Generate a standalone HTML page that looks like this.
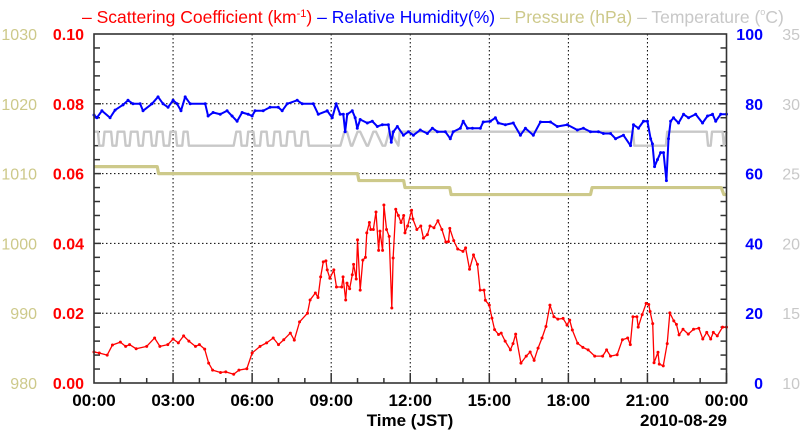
<!DOCTYPE html>
<html><head><meta charset="utf-8"><style>
html,body{margin:0;padding:0;background:#fff;width:800px;height:434px;overflow:hidden}
svg{display:block}
text{font-family:"Liberation Sans",Arial,sans-serif}
</style></head><body>
<svg id="chart" width="800" height="434" xmlns="http://www.w3.org/2000/svg"></svg>
<script>
// ---- data ----
const xTickLabels = ["00:00","03:00","06:00","09:00","12:00","15:00","18:00","21:00","00:00"];
const scatTicks = ["0.00","0.02","0.04","0.06","0.08","0.10"];
const presTicks = ["980","990","1000","1010","1020","1030"];
const rhTicks = ["0","20","40","60","80","100"];
const tempTicks = ["10","15","20","25","30","35"];

const scatTimes = [0,0.2,0.5,0.7,1.0,1.2,1.35,1.6,2.0,2.3,2.5,2.8,3.0,3.2,3.4,3.6,3.85,4.0,4.2,4.35,4.5,4.8,5.0,5.3,5.5,5.8,6.0,6.3,6.55,6.8,7.0,7.2,7.45,7.6,7.8,8.1,8.2,8.4,8.5,8.6,8.7,8.8,8.85,8.95,9.1,9.2,9.4,9.45,9.55,9.6,9.7,9.8,9.85,9.95,10.0,10.1,10.2,10.3,10.35,10.45,10.5,10.6,10.7,10.8,10.85,10.95,11.0,11.1,11.2,11.3,11.35,11.45,11.55,11.65,11.75,11.8,11.9,12.05,12.1,12.25,12.4,12.5,12.65,12.75,12.9,13.05,13.2,13.35,13.45,13.5,13.65,13.8,14.0,14.1,14.25,14.4,14.55,14.65,14.8,14.85,15.0,15.1,15.2,15.35,15.45,15.6,15.8,15.9,16.0,16.2,16.4,16.55,16.7,16.85,17.0,17.15,17.3,17.45,17.6,17.8,17.95,18.05,18.15,18.35,18.55,18.75,19.0,19.3,19.45,19.6,19.85,20.05,20.25,20.35,20.45,20.6,20.65,20.8,20.95,21.05,21.1,21.2,21.25,21.4,21.45,21.6,21.75,21.85,22.0,22.1,22.2,22.35,22.55,22.75,22.95,23.1,23.25,23.4,23.5,23.65,23.85,24];
const scatValues = [0.0089,0.0086,0.008,0.0109,0.0117,0.0105,0.011,0.0098,0.0105,0.0129,0.0105,0.011,0.0126,0.0115,0.0135,0.012,0.0105,0.011,0.0097,0.0057,0.0037,0.003,0.0032,0.0025,0.0037,0.0041,0.0086,0.0105,0.0115,0.0129,0.011,0.0124,0.0143,0.0123,0.0175,0.02,0.0238,0.0258,0.0245,0.0304,0.0347,0.035,0.0324,0.03,0.0324,0.0275,0.0275,0.0304,0.0238,0.0286,0.027,0.031,0.034,0.0298,0.041,0.0266,0.0352,0.036,0.043,0.046,0.044,0.044,0.049,0.038,0.0435,0.038,0.051,0.044,0.042,0.0215,0.0358,0.0498,0.048,0.046,0.048,0.043,0.045,0.0495,0.047,0.044,0.045,0.0415,0.0425,0.045,0.0445,0.0465,0.044,0.0404,0.0405,0.0443,0.0408,0.0384,0.0377,0.0387,0.0326,0.0367,0.034,0.0266,0.0266,0.0237,0.0223,0.0186,0.0153,0.0139,0.0143,0.012,0.0095,0.0113,0.014,0.0057,0.0077,0.0089,0.0065,0.01,0.0129,0.0162,0.0223,0.019,0.0183,0.0185,0.0166,0.018,0.0152,0.0114,0.0102,0.0095,0.0077,0.0077,0.0095,0.0077,0.0081,0.0124,0.0129,0.011,0.019,0.019,0.016,0.0196,0.0228,0.0225,0.0205,0.017,0.0058,0.0088,0.0054,0.0049,0.0113,0.0201,0.0178,0.0168,0.0138,0.0154,0.014,0.0154,0.0157,0.0126,0.0145,0.0126,0.0145,0.0135,0.016,0.016];

const rhTimes = [0,0.11,0.3,0.61,0.8,1.1,1.29,1.48,1.75,1.86,2.2,2.43,2.62,2.81,3.0,3.15,3.3,3.46,3.65,4.22,4.33,4.52,4.79,5.05,5.24,5.43,5.62,5.85,6.0,6.11,6.42,6.68,6.99,7.14,7.33,7.71,7.9,8.32,8.51,8.85,9.04,9.19,9.34,9.46,9.53,9.61,9.8,9.91,9.99,10.1,10.37,10.56,10.75,10.94,11.17,11.28,11.36,11.51,11.74,11.93,12.12,12.38,12.65,12.84,13.03,13.33,13.52,13.63,13.9,14.01,14.17,14.36,14.66,14.77,15.04,15.23,15.34,15.61,15.91,16.18,16.37,16.67,16.94,17.32,17.58,17.96,18.34,18.57,18.84,19.14,19.33,19.6,19.79,20.09,20.36,20.47,20.66,20.85,21.0,21.12,21.19,21.27,21.38,21.5,21.61,21.72,21.8,21.88,21.99,22.18,22.37,22.56,22.83,23.09,23.28,23.47,23.59,23.78,24];
const rhValues = [76.8,76,78,76,78.2,79.7,81,80,80,78,80,82,80,79,81,80,78,82,80,80,76.5,77.5,77,78,76.5,75,77.5,77,76.5,78,78,79,79,78,80,81,80,80,77,78,76,80,77,77,72,77,78,76,73,75.5,74.5,75,73.5,74,74,69,72,73.5,71,72,71,72.5,71.5,73,72,72,70,72,73,75,73,73,73,74.8,75,76,74.5,74,74.5,71,73,71,74.8,74.8,73.5,74,72.5,73,72,72,71.5,71.5,70,71,68,74,73,75,75,70,68.5,62,64,66,66,58,70,75,76,74.5,77,76,77,74.5,76.5,77,75,77,77];

const presTimes = [0,2.4,2.45,10.0,10.05,11.75,11.8,13.5,13.55,18.84,18.9,23.8,23.9,24];
const presValues = [1011,1011,1010,1010,1009,1009,1008,1008,1007,1007,1008,1008,1007,1007];

const tempTimes = [0,0.15,0.2,0.35,0.4,0.65,0.7,0.85,0.9,1.15,1.2,1.35,1.4,1.65,1.7,1.85,1.9,2.15,2.2,2.35,2.4,2.6,2.65,2.85,2.9,3.1,3.15,3.35,3.4,3.55,3.6,5.3,5.4,5.55,5.6,5.8,5.85,6.05,6.1,6.3,6.35,6.55,6.6,6.8,6.85,7.05,7.1,7.3,7.35,7.6,7.65,7.85,7.9,8.1,8.15,8.6,9.35,9.5,9.6,9.75,9.8,10.0,10.1,10.35,10.4,10.6,10.7,10.95,11.05,11.2,11.25,11.55,11.6,20.45,20.5,21.7,21.75,23.25,23.3,23.4,23.45,23.85,23.9,24];
const tempValues = [28,28,27,27,28,28,27,27,28,28,27,27,28,28,27,27,28,28,27,27,28,28,27,27,28,28,27,27,28,28,27,27,28,28,27,27,28,28,27,27,28,28,27,27,28,28,27,27,28,28,27,27,28,28,27,27,27,28,28,27,27,28,28,27,27,28,28,27,27,28,28,27,28,28,27,27,28,28,27,27,28,28,27,28];

// ---- layout ----
const L=94, R=726.5, T=34, B=383;
const NS="http://www.w3.org/2000/svg";
const svg=document.getElementById('chart');
const xS = h => L + (R-L)*h/24;
const yScat = v => B - (B-T)*v/0.1;
const yRH = v => B - (B-T)*v/100;
const yPres = v => B - (B-T)*(v-980)/50;
const yTemp = v => B - (B-T)*(v-10)/25;
function mk(tag, attrs, parent){
  const e=document.createElementNS(NS,tag);
  for(const k in attrs) e.setAttribute(k,attrs[k]);
  (parent||svg).appendChild(e); return e;
}
function txt(s, attrs, parent){ const e=mk('text',attrs,parent); e.textContent=s; return e; }

// grid
const grid=mk('g',{});


for(let i=1;i<8;i++){ mk('line',{x1:xS(i*3),x2:xS(i*3),y1:T,y2:B,stroke:'#000','stroke-width':1,'stroke-dasharray':'1.5,2.5'},grid); }
for(let i=1;i<5;i++){ mk('line',{x1:L,x2:R,y1:yScat(i*0.02),y2:yScat(i*0.02),stroke:'#000','stroke-width':1,'stroke-dasharray':'1.5,2.5'},grid); }

// ticks
const ticks=mk('g',{stroke:'#333','stroke-width':1.5});


for(let i=1;i<25;i++){ const len = i%3===0?10:5; mk('line',{x1:xS(i),x2:xS(i),y1:B,y2:B-len},ticks); }
for(let i=1;i<25;i++){ const y=B-(B-T)*i/25; const len=i%5===0?7:6; mk('line',{x1:L,x2:L+len,y1:y,y2:y},ticks); mk('line',{x1:R,x2:R-len,y1:y,y2:y},ticks); }

// series
function series(times, vals, yf, name, color, w, dots){
  const g=mk('g',{});
  
  
  const pts=times.map((t,i)=>xS(t).toFixed(2)+','+yf(vals[i]).toFixed(2)).join(' ');
  mk('polyline',{points:pts,fill:'none',stroke:color,'stroke-width':w,'stroke-linejoin':'round'},g);
  if(dots){ times.forEach((t,i)=>{ mk('circle',{cx:xS(t),cy:yf(vals[i]),r:1.5,fill:color},g); }); }
}
series(presTimes,presValues,yPres,'pressure-line','#cdc98a',3.2,false);
series(tempTimes,tempValues,yTemp,'temperature-line','#c8c8c8',2.4,false);
series(rhTimes,rhValues,yRH,'humidity-line','#0000ff',2,true);
series(scatTimes,scatValues,yScat,'scattering-line','#ff0000',1.3,true);

// frame
const fr=mk('rect',{x:L,y:T,width:R-L,height:B-T,fill:'none',stroke:'#333','stroke-width':1.6});



// axis labels
for(let i=0;i<6;i++){
  const y=B-(B-T)*i/5+6;
  const a=txt(presTicks[i],{x:37,y:y,'text-anchor':'end','font-size':16,fill:'#cdc98a'});
  
  
  const b=txt(scatTicks[i],{x:84,y:y,'text-anchor':'end','font-size':16,'font-weight':'bold',fill:'#ff0000'});
  
  
  const c=txt(rhTicks[i],{x:763,y:y,'text-anchor':'end','font-size':16,'font-weight':'bold',fill:'#0000ff'});
  
  
  const d=txt(tempTicks[i],{x:800,y:y,'text-anchor':'end','font-size':16,fill:'#c8c8c8'});
  
  
}
for(let i=0;i<9;i++){
  const e=txt(xTickLabels[i],{x:xS(i*3),y:406,'text-anchor':'middle','font-size':17,'font-weight':'bold',fill:'#000'});
  
  
}
const xt=txt('Time (JST)',{x:410,y:426,'text-anchor':'middle','font-size':17,'font-weight':'bold',fill:'#000'});


const dt=txt('2010-08-29',{x:727,y:426,'text-anchor':'end','font-size':17,'font-weight':'bold',fill:'#000'});



// title legend
const ti=mk('text',{x:82,y:23,'font-size':17.5});


ti.innerHTML='<tspan fill="#ff0000">– Scattering Coefficient (km<tspan dy="-6" font-size="11">-1</tspan><tspan dy="6">)</tspan></tspan><tspan fill="#0000ff"> – Relative Humidity(%)</tspan><tspan fill="#cdc98a"> – Pressure (hPa)</tspan><tspan fill="#c8c8c8"> – Temperature (<tspan dy="-8" font-size="9">o</tspan><tspan dy="8">C)</tspan></tspan>';
</script>
</body></html>
